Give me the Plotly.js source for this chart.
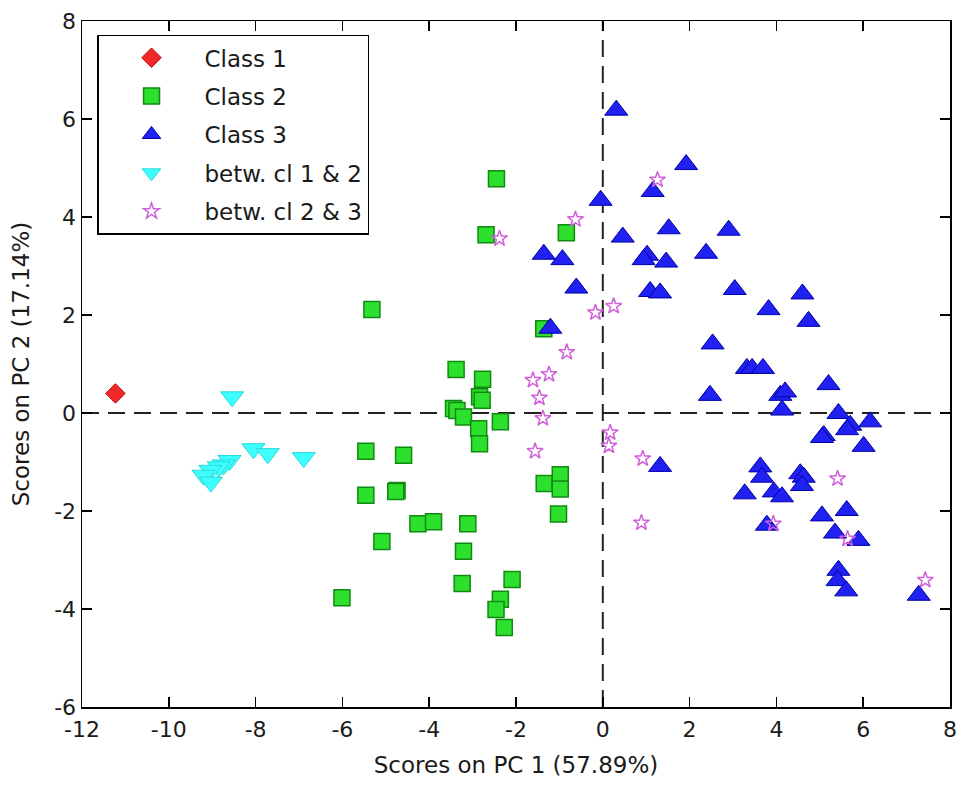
<!DOCTYPE html>
<html>
<head>
<meta charset="utf-8">
<script src="https://cdn.plot.ly/plotly-3.0.1.min.js"></script>
<style>html,body{margin:0;padding:0;background:#fff;}#chart{width:962px;height:785px;}</style>
</head>
<body>
<div id="chart"></div>
<script>
// ---- data ----
const class1X = [-11.23];
const class1Y = [0.40];

const class2X = [-5.32, -2.45, -2.69, -0.84, -1.36, -3.38, -2.77, -2.84, -2.78, -3.44, -3.36, -3.21, -2.86, -2.36, -2.84,
  -5.46, -4.59, -5.46, -4.74, -4.77, -1.35, -0.98, -0.98, -1.02, -4.26, -3.90, -3.11, -5.09, -3.21, -3.24, -2.09, -2.36, -2.46, -2.27, -6.01];
const class2Y = [2.11, 4.78, 3.64, 3.68, 1.72, 0.89, 0.69, 0.33, 0.26, 0.09, 0.05, -0.08, -0.32, -0.18, -0.63,
  -0.78, -0.86, -1.68, -1.58, -1.60, -1.44, -1.26, -1.55, -2.06, -2.26, -2.22, -2.26, -2.62, -2.82, -3.48, -3.40, -3.80, -4.01, -4.38, -3.77];

const class3X = [0.31, 1.92, 1.15, -0.05, 0.46, 1.52, 2.90, 1.02, 0.94, 1.46, 2.38, 1.09, 1.32, 3.04, 4.60, 3.82, 4.74,
  -1.36, -0.93, -0.61, -1.21, 2.53, 2.47, 3.32, 3.44, 3.69, 4.09, 4.20, 4.13, 5.20, 5.43, 5.70, 5.63, 6.16, 5.09, 5.05, 6.01,
  1.32, 3.63, 3.67, 3.27, 3.94, 4.13, 4.55, 4.63, 4.59, 5.05, 3.78, 5.35, 5.62, 5.89, 5.43, 5.41, 5.61, 7.28];
const class3Y = [6.18, 5.07, 4.52, 4.34, 3.59, 3.76, 3.73, 3.22, 3.13, 3.08, 3.26, 2.48, 2.45, 2.52, 2.43, 2.11, 1.87,
  3.24, 3.13, 2.55, 1.73, 1.41, 0.36, 0.91, 0.91, 0.91, 0.36, 0.43, 0.06, 0.58, -0.01, -0.25, -0.34, -0.18, -0.46, -0.50, -0.68,
  -1.09, -1.10, -1.31, -1.65, -1.61, -1.71, -1.24, -1.31, -1.48, -2.10, -2.29, -2.45, -1.99, -2.60, -3.21, -3.42, -3.63, -3.72];

const betw12X = [-8.54, -8.05, -7.72, -6.89, -8.60, -8.74, -8.85, -9.04, -9.20, -9.03];
const betw12Y = [0.33, -0.73, -0.83, -0.91, -0.97, -1.06, -1.10, -1.17, -1.27, -1.41];

const betw23X = [-2.38, -0.63, -0.17, 0.25, -0.83, -1.61, -1.24, -1.46, -1.38, 0.17, 0.14, -1.56, 1.26, 0.92, 0.89, 3.93, 5.41, 5.64, 7.43];
const betw23Y = [3.56, 3.95, 2.05, 2.18, 1.24, 0.67, 0.79, 0.31, -0.11, -0.40, -0.67, -0.78, 4.76, -0.93, -2.24, -2.26, -1.34, -2.57, -3.41];

const seriesNames = ["Class 1", "Class 2", "Class 3", "betw. cl 1 & 2", "betw. cl 2 & 3"];
const xTicks = [-12, -10, -8, -6, -4, -2, 0, 2, 4, 6, 8];
const yTicks = [-6, -4, -2, 0, 2, 4, 6, 8];
const xTitle = "Scores on PC 1 (57.89%)";
const yTitle = "Scores on PC 2 (17.14%)";

// ---- traces ----
const FONT = "DejaVu Sans";
const TXT = "#1a1a1a";
const traces = [
  {x: class1X, y: class1Y, name: seriesNames[0], legendgroup: "g1", type: "scatter", mode: "markers",
   marker: {symbol: "diamond", size: 15, color: "#f02828", line: {color: "#c01010", width: 1}}},
  {x: class2X, y: class2Y, name: seriesNames[1], legendgroup: "g2", type: "scatter", mode: "markers",
   marker: {symbol: "square", size: 16, color: "#2ee02e", line: {color: "#108a10", width: 1.5}}},
  {x: class3X, y: class3Y, name: seriesNames[2], legendgroup: "g3", type: "scatter", mode: "markers",
   marker: {symbol: "triangle-up", size: 20, color: "#2020f0", line: {color: "#0000a8", width: 1}}},
  {x: betw12X, y: betw12Y, name: seriesNames[3], legendgroup: "g4", type: "scatter", mode: "markers",
   marker: {symbol: "triangle-down", size: 20, color: "#40ffff", line: {color: "#20dada", width: 1}}},
  {x: betw23X, y: betw23Y, name: seriesNames[4], legendgroup: "g5", type: "scatter", mode: "markers",
   marker: {symbol: "star-open", size: 12, color: "#d060d8", line: {color: "#d060d8", width: 1.5}}}
];

const axisCommon = {
  showgrid: false, zeroline: false, showline: true, linecolor: "#000", linewidth: 1.5,
  mirror: "ticks", ticks: "inside", ticklen: 10, tickwidth: 1.5, tickcolor: "#000",
  tickfont: {family: FONT, size: 22, color: TXT}
};

const layout = {
  width: 962, height: 785,
  margin: {l: 82, r: 12, t: 21, b: 78},
  paper_bgcolor: "#fff", plot_bgcolor: "#fff",
  font: {family: FONT, size: 23, color: TXT},
  showlegend: true,
  legend: {x: 0.0173, y: 0.98, xanchor: "left", yanchor: "top",
           bgcolor: "#fff", bordercolor: "#000", borderwidth: 1.5,
           traceorder: "grouped", tracegroupgap: 5.5,
           font: {family: FONT, size: 23, color: TXT}, itemwidth: 96},
  xaxis: Object.assign({}, axisCommon, {
    range: [-12, 8], tickmode: "array", tickvals: xTicks, ticktext: xTicks.map(String),
    ticklabelstandoff: 2,
    title: {text: xTitle, font: {family: FONT, size: 23, color: TXT}, standoff: 16}
  }),
  yaxis: Object.assign({}, axisCommon, {
    range: [-6, 8], tickmode: "array", tickvals: yTicks, ticktext: yTicks.map(String),
    title: {text: yTitle, font: {family: FONT, size: 23, color: TXT}, standoff: 18}
  }),
  shapes: [
    {type: "line", xref: "x", yref: "paper", x0: 0, x1: 0, y0: 0, y1: 1,
     line: {color: "#222", width: 2, dash: "17px,9px"}, layer: "below"},
    {type: "line", xref: "paper", yref: "y", x0: 0, x1: 1, y0: 0, y1: 0,
     line: {color: "#222", width: 2, dash: "17px,9px"}, layer: "below"}
  ]
};

Plotly.newPlot("chart", traces, layout, {displayModeBar: false, staticPlot: true});
</script>
</body>
</html>
